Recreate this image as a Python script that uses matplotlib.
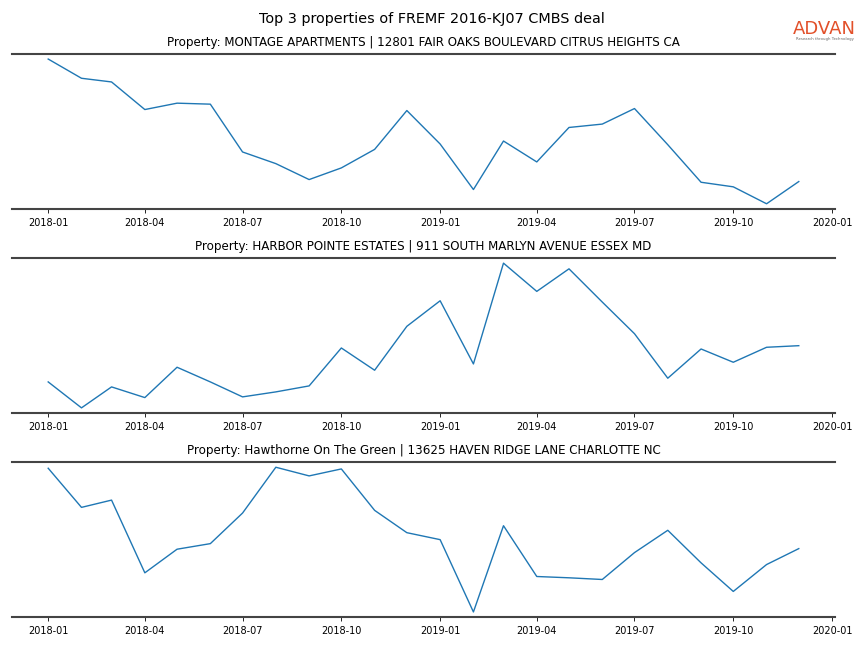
import matplotlib
matplotlib.use("Agg")
import matplotlib.pyplot as plt
import matplotlib.dates as mdates
import pandas as pd

months = pd.date_range("2018-01-01", "2019-12-01", freq="MS")

titles = [
    "Property: MONTAGE APARTMENTS | 12801 FAIR OAKS BOULEVARD CITRUS HEIGHTS CA",
    "Property: HARBOR POINTE ESTATES | 911 SOUTH MARLYN AVENUE ESSEX MD",
    "Property: Hawthorne On The Green | 13625 HAVEN RIDGE LANE CHARLOTTE NC",
]

# relative visit levels (arbitrary units)
montage = [151, 131.7, 128, 100.3, 106.7, 105.7, 57.7, 46, 30, 41.7, 60.3, 99.3,
           65.7, 20, 68.7, 47.7, 82.3, 85.7, 101.3, 65, 27.3, 22.7, 5.7, 28]
harbor = [148, 122, 143, 132.3, 162.7, 148, 133, 138, 144, 182, 159.7, 203.7,
          229.3, 166, 267, 238.7, 261.3, 228, 196.3, 151.7, 181, 167.7, 182.7, 184.3]
hawthorne = [152, 112.7, 120, 47, 70.7, 76.3, 107, 153, 144.3, 151.3, 109.7, 87.3,
             80.3, 7.7, 94.3, 43.3, 42, 40.3, 67.3, 89.7, 57, 28.3, 55.3, 71.3]

series = [montage, harbor, hawthorne]

fig, axes = plt.subplots(3, 1, figsize=(8.64, 6.48), dpi=100)
fig.subplots_adjust(left=0.0139, right=0.9664, top=0.9167, bottom=0.0478, hspace=0.318)

for ax, vals, title in zip(axes, series, titles):
    ax.plot(months, vals, color="#1f77b4", linewidth=1.0)
    ax.set_title(title, fontsize=8.6)
    ax.margins(y=0.035)
    ax.set_yticks([])
    ax.spines["left"].set_visible(False)
    ax.spines["right"].set_visible(False)
    for s in ("top", "bottom"):
        ax.spines[s].set_color("#444444")
        ax.spines[s].set_linewidth(1.5)
    ax.xaxis.set_major_locator(mdates.MonthLocator(bymonth=[1, 4, 7, 10]))
    ax.xaxis.set_major_formatter(mdates.DateFormatter("%Y-%m"))
    ax.tick_params(axis="x", labelsize=7, length=3, width=0.6)
    ax.set_xlim(mdates.date2num(pd.Timestamp("2018-01-01")) - 33.7,
                mdates.date2num(pd.Timestamp("2019-12-01")) + 33.7)

fig.suptitle("Top 3 properties of FREMF 2016-KJ07 CMBS deal", fontsize=10.4, y=0.981)

fig.text(0.9545, 0.958, "ADVAN", fontsize=13, color="#E2502A", ha="center",
         va="center_baseline")
fig.text(0.9545, 0.9405, "Research through Technology", fontsize=2.8, color="#666666",
         ha="center", va="center")

fig.savefig("out.png", dpi=100)
